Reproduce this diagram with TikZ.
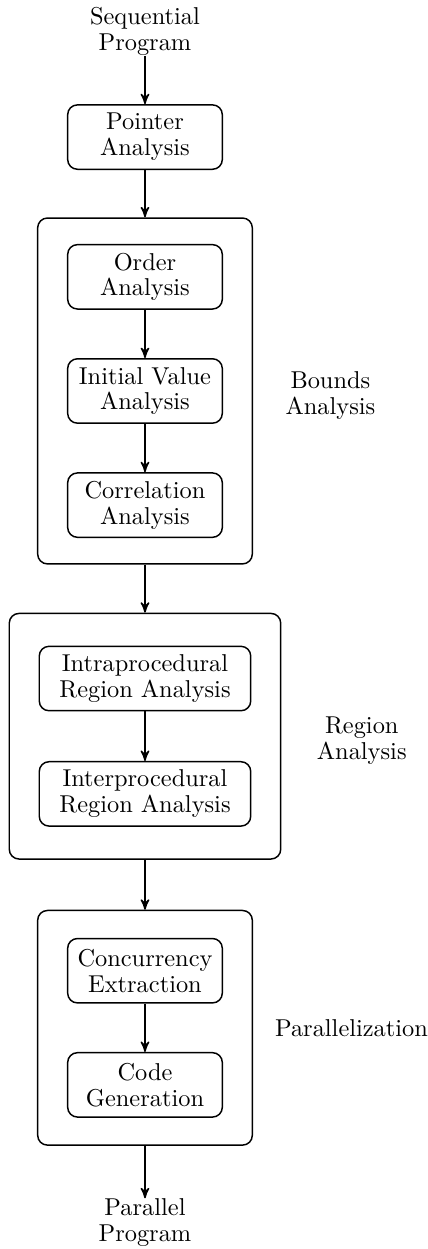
\documentclass[tikz,border=0pt]{standalone}
\usepackage{tikz}
\usetikzlibrary{arrows,positioning,fit}

\tikzset{
  stage/.style={rectangle, draw, rounded corners, semithick, minimum width=63.4pt, minimum height=26.4pt, align=center},
  group/.style={rectangle, draw, rounded corners, semithick, inner xsep=12pt},
  io/.style={align=center, inner sep=0pt},
  flow/.style={->, >=stealth', semithick},
}

\begin{document}
\begin{tikzpicture}[node distance=19.8pt, font=\fontsize{10}{10.6}\selectfont]
  \useasboundingbox (-59.45pt,56.2pt) rectangle (116pt,-455.9pt);

  \node (pointer) [stage] {Pointer\\Analysis};
  \node (seq) [io, above=of pointer] {Sequential\\Program};

  % bounds analysis
  \node (order) [stage, below=30.3pt of pointer] {Order\\Analysis};
  \node (initial) [stage, below=of order] {Initial Value\\Analysis};
  \node (corr) [stage, below=of initial] {Correlation\\Analysis};
  \node (bounds) [group, inner ysep=10.6pt, fit=(order) (initial) (corr)] {};
  \node (boundslbl) [align=center, right=9.8pt of bounds, yshift=-2pt] {Bounds\\Analysis};

  % region analysis
  \node (intra) [stage, minimum width=86.7pt, below=33.2pt of bounds] {Intraprocedural\\Region Analysis};
  \node (inter) [stage, minimum width=86.7pt, below=20.3pt of intra] {Interprocedural\\Region Analysis};
  \node (region) [group, inner ysep=13.2pt, fit=(intra) (inter)] {};
  \node (regionlbl) [align=center, right=11pt of region, yshift=-2pt] {Region\\Analysis};

  % parallelization
  \node (conc) [stage, below=32pt of region] {Concurrency\\Extraction};
  \node (codegen) [stage, below=of conc] {Code\\Generation};
  \node (par) [group, inner ysep=11.2pt, fit=(conc) (codegen)] {};
  \node (parlbl) [right=5.5pt of par] {Parallelization};

  \node (out) [io, below=21.5pt of par] {Parallel\\Program};

  \draw[flow] (seq) -- (pointer);
  \draw[flow] (pointer) -- (bounds);
  \draw[flow] (order) -- (initial);
  \draw[flow] (initial) -- (corr);
  \draw[flow] (bounds) -- (region);
  \draw[flow] (intra) -- (inter);
  \draw[flow] (region) -- (par);
  \draw[flow] (conc) -- (codegen);
  \draw[flow] (par) -- (out);
\end{tikzpicture}
\end{document}
